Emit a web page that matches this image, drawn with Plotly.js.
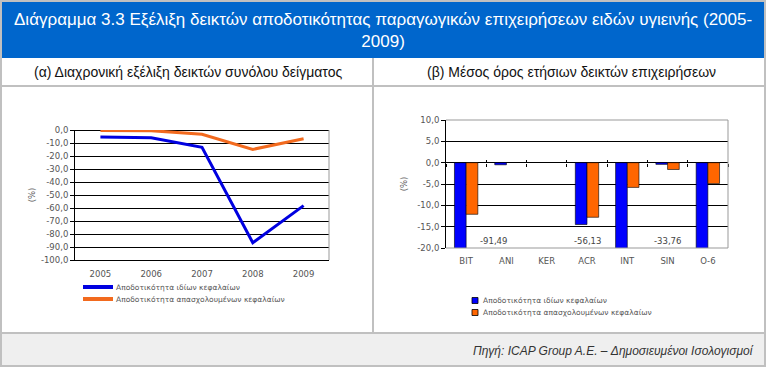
<!DOCTYPE html>
<html>
<head>
<meta charset="utf-8">
<script src="https://cdn.plot.ly/plotly-3.0.1.min.js"></script>
<style>
  html, body { margin: 0; padding: 0; background: #ffffff; }
  #chart { width: 766px; height: 368px; }
</style>
</head>
<body>
<div id="chart"></div>
<script>
// ---------------- DATA ----------------
const years = ['2005', '2006', '2007', '2008', '2009'];
const roeTotal = [-5.3, -5.9, -13.3, -86.7, -58.2];   // Αποδοτικότητα ιδίων κεφαλαίων
const roceTotal = [-0.3, -0.5, -3.3, -14.9, -6.7];    // Αποδοτικότητα απασχολουμένων κεφαλαίων

const companies = ['BIT', 'ANI', 'KER', 'ACR', 'INT', 'SIN', 'O-6'];
const roeAvg = [-91.49, -0.5, null, -14.5, -56.13, -0.4, -33.76];
const roceAvg = [-12.1, null, null, -12.8, -5.8, -1.6, -4.9];

const seriesNames = ['Αποδοτικότητα ιδίων κεφαλαίων', 'Αποδοτικότητα απασχολουμένων κεφαλαίων'];
const leftTickVals = [0, -10, -20, -30, -40, -50, -60, -70, -80, -90, -100];
const rightTickVals = [10, 5, 0, -5, -10, -15, -20];

const titleText = 'Διάγραμμα 3.3 Εξέλιξη δεικτών αποδοτικότητας παραγωγικών επιχειρήσεων ειδών υγιεινής (2005-<br>2009)';
const subTitleA = '(α) Διαχρονική εξέλιξη δεικτών συνόλου δείγματος';
const subTitleB = '(β) Μέσος όρος ετήσιων δεικτών επιχειρήσεων';
const sourceText = 'Πηγή: ICAP Group A.E. – Δημοσιευμένοι Ισολογισμοί';

// ---------------- STYLE / LAYOUT ----------------
const W = 766, H = 368;
const px = x => x / W;
const py = y => 1 - y / H;
const fmt = (v, d) => v.toFixed(d).replace('.', ',');

const BLUE_LINE = '#0000E0', ORANGE_LINE = '#F26A1E';
const BLUE_BAR = '#0000FF', ORANGE_BAR = '#FF6600';
const GRAY = '#C0C0C0';
const TICKFONT = { family: 'DejaVu Sans', size: 8.5, color: '#555555' };

// plot boxes (pixels)
const L = { x0: 75, x1: 329, y0: 130, y1: 260 };
const R = { x0: 446, x1: 728, y0: 120, y1: 248 };
const rMin = -20, rMax = 10;
const zeroY = R.y0 + (rMax - 0) / (rMax - rMin) * (R.y1 - R.y0);

const traces = [
  { type: 'scatter', mode: 'lines', x: years, y: roeTotal, name: seriesNames[0],
    line: { color: BLUE_LINE, width: 3 }, xaxis: 'x', yaxis: 'y', showlegend: false },
  { type: 'scatter', mode: 'lines', x: years, y: roceTotal, name: seriesNames[1],
    line: { color: ORANGE_LINE, width: 3 }, xaxis: 'x', yaxis: 'y', showlegend: false },
  { type: 'bar', x: companies, y: roeAvg, name: seriesNames[0],
    marker: { color: BLUE_BAR, line: { color: '#000000', width: 0.6 } }, xaxis: 'x2', yaxis: 'y2', showlegend: false },
  { type: 'bar', x: companies, y: roceAvg, name: seriesNames[1],
    marker: { color: ORANGE_BAR, line: { color: '#000000', width: 0.6 } }, xaxis: 'x2', yaxis: 'y2', showlegend: false },
  // helpers for the category tick marks crossing the zero line
  { type: 'scatter', x: [], y: [], xaxis: 'x3', yaxis: 'y2', showlegend: false, hoverinfo: 'skip' },
  { type: 'scatter', x: [], y: [], xaxis: 'x4', yaxis: 'y2', showlegend: false, hoverinfo: 'skip' }
];

const boundaryTicks = [];
for (let i = 0; i <= companies.length; i++) boundaryTicks.push(i - 0.5);

const shapes = [
  // outer frame
  { type: 'rect', xref: 'paper', yref: 'paper', x0: px(1), x1: px(765), y0: py(1), y1: py(366),
    line: { color: GRAY, width: 2 }, fillcolor: 'rgba(0,0,0,0)', layer: 'below' },
  // title band
  { type: 'rect', xref: 'paper', yref: 'paper', x0: px(2), x1: px(764), y0: py(2), y1: py(58),
    line: { width: 0 }, fillcolor: '#0066CC', layer: 'below' },
  // footer band
  { type: 'rect', xref: 'paper', yref: 'paper', x0: px(2), x1: px(764), y0: py(333), y1: py(365),
    line: { width: 0 }, fillcolor: '#EFEFEF', layer: 'below' },
  // separators
  { type: 'line', xref: 'paper', yref: 'paper', x0: px(1), x1: px(765), y0: py(86), y1: py(86),
    line: { color: GRAY, width: 2 }, layer: 'below' },
  { type: 'line', xref: 'paper', yref: 'paper', x0: px(1), x1: px(765), y0: py(333), y1: py(333),
    line: { color: GRAY, width: 2 }, layer: 'below' },
  { type: 'line', xref: 'paper', yref: 'paper', x0: px(373), x1: px(373), y0: py(58), y1: py(333),
    line: { color: GRAY, width: 2 }, layer: 'below' },
  // left plot: right border
  { type: 'line', xref: 'paper', yref: 'paper', x0: px(L.x1), x1: px(L.x1), y0: py(L.y0), y1: py(L.y1),
    line: { color: '#999999', width: 1 }, layer: 'above' },
  // right plot: top / right / bottom border
  { type: 'line', xref: 'paper', yref: 'paper', x0: px(R.x0), x1: px(R.x1), y0: py(R.y0), y1: py(R.y0),
    line: { color: '#999999', width: 1 }, layer: 'above' },
  { type: 'line', xref: 'paper', yref: 'paper', x0: px(R.x1), x1: px(R.x1), y0: py(R.y0), y1: py(R.y1),
    line: { color: '#999999', width: 1 }, layer: 'above' },
  { type: 'line', xref: 'paper', yref: 'paper', x0: px(R.x0), x1: px(R.x1), y0: py(R.y1), y1: py(R.y1),
    line: { color: '#999999', width: 1 }, layer: 'above' }
];

const annotations = [
  { xref: 'paper', yref: 'paper', x: px(383), y: py(31), text: titleText, showarrow: false,
    xanchor: 'center', yanchor: 'middle', align: 'center',
    font: { family: 'Liberation Sans', size: 17, color: '#FFFFFF' } },
  { xref: 'paper', yref: 'paper', x: px(188), y: py(72), text: subTitleA, showarrow: false,
    xanchor: 'center', yanchor: 'middle', font: { family: 'Liberation Sans', size: 14, color: '#111111' } },
  { xref: 'paper', yref: 'paper', x: px(571), y: py(72), text: subTitleB, showarrow: false,
    xanchor: 'center', yanchor: 'middle', font: { family: 'Liberation Sans', size: 14, color: '#111111' } },
  { xref: 'paper', yref: 'paper', x: px(756), y: py(351), text: '<i>' + sourceText + '</i>', showarrow: false,
    xanchor: 'right', yanchor: 'middle', font: { family: 'Liberation Sans', size: 12, color: '#333333' } }
];

// labels for bars that run off the scale
const offscaleLabelPos = { 'BIT': { x: 'ANI', xshift: -13 }, 'INT': { x: 'ACR', xshift: 0 }, 'O-6': { x: 'SIN', xshift: 0 } };
companies.forEach((c, i) => {
  const v = roeAvg[i];
  if (v !== null && v < rMin && offscaleLabelPos[c]) {
    annotations.push({ xref: 'x2', yref: 'y2', x: offscaleLabelPos[c].x, xshift: offscaleLabelPos[c].xshift,
      y: -18.4, text: fmt(v, 2), showarrow: false, xanchor: 'center', yanchor: 'middle',
      font: { family: 'DejaVu Sans', size: 8.5, color: '#444444' } });
  }
});

// manual legends
const legColorsL = [BLUE_LINE, ORANGE_LINE];
const legColorsR = [BLUE_BAR, ORANGE_BAR];
seriesNames.forEach((name, i) => {
  const yl = 287 + i * 12;
  shapes.push({ type: 'line', xref: 'paper', yref: 'paper', x0: px(83), x1: px(113), y0: py(yl), y1: py(yl),
    line: { color: legColorsL[i], width: 4 } });
  annotations.push({ xref: 'paper', yref: 'paper', x: px(114), y: py(yl), text: name, showarrow: false,
    xanchor: 'left', yanchor: 'middle', font: { family: 'DejaVu Sans', size: 7.5, color: '#555555' } });
  const yr = 300.5 + i * 12;
  shapes.push({ type: 'rect', xref: 'paper', yref: 'paper', x0: px(472), x1: px(478), y0: py(yr - 3), y1: py(yr + 3),
    line: { color: '#000000', width: 0.8 }, fillcolor: legColorsR[i] });
  annotations.push({ xref: 'paper', yref: 'paper', x: px(481), y: py(yr), text: name, showarrow: false,
    xanchor: 'left', yanchor: 'middle', font: { family: 'DejaVu Sans', size: 7.5, color: '#555555' } });
});

const layout = {
  width: W, height: H,
  margin: { l: 0, r: 0, t: 0, b: 0, pad: 0 },
  paper_bgcolor: '#FFFFFF', plot_bgcolor: 'rgba(0,0,0,0)',
  separators: ',.',
  showlegend: false,
  bargap: 0.42, bargroupgap: 0, barmode: 'group',
  xaxis: {
    domain: [px(L.x0), px(L.x1)], anchor: 'y', type: 'category', range: [-0.5, years.length - 0.5],
    showgrid: false, zeroline: false, showline: true, linecolor: '#000000', linewidth: 1,
    ticks: '', tickfont: TICKFONT, ticklabelstandoff: 6, fixedrange: true
  },
  yaxis: {
    domain: [py(L.y1), py(L.y0)], anchor: 'x', range: [-100, 0],
    tickvals: leftTickVals, ticktext: leftTickVals.map(v => fmt(v, 1)),
    showgrid: true, gridcolor: '#000000', gridwidth: 1,
    zeroline: true, zerolinecolor: '#000000', zerolinewidth: 1,
    showline: true, linecolor: '#000000', linewidth: 1,
    ticks: 'outside', ticklen: 4, tickcolor: '#000000', tickfont: TICKFONT,
    title: { text: '(%)', font: { family: 'DejaVu Sans', size: 8.5, color: '#555555' }, standoff: 3 },
    fixedrange: true
  },
  xaxis2: {
    domain: [px(R.x0), px(R.x1)], anchor: 'y2', type: 'category', range: [-0.5, companies.length - 0.5],
    showgrid: false, zeroline: false, showline: false,
    ticks: '', tickfont: TICKFONT, ticklabelstandoff: 6, fixedrange: true
  },
  yaxis2: {
    domain: [py(R.y1), py(R.y0)], anchor: 'x2', range: [rMin, rMax],
    tickvals: rightTickVals, ticktext: rightTickVals.map(v => fmt(v, 1)),
    showgrid: true, gridcolor: '#000000', gridwidth: 1,
    zeroline: true, zerolinecolor: '#000000', zerolinewidth: 1,
    showline: true, linecolor: '#000000', linewidth: 1,
    ticks: 'outside', ticklen: 4, tickcolor: '#000000', tickfont: TICKFONT,
    title: { text: '(%)', font: { family: 'DejaVu Sans', size: 8.5, color: '#555555' }, standoff: 8 },
    fixedrange: true
  },
  xaxis3: {
    overlaying: 'x2', anchor: 'free', position: py(zeroY), side: 'bottom',
    range: [-0.5, companies.length - 0.5], tickvals: boundaryTicks, showticklabels: false,
    ticks: 'outside', ticklen: 3, tickcolor: '#000000', tickwidth: 1,
    showgrid: false, zeroline: false, showline: false, fixedrange: true
  },
  xaxis4: {
    overlaying: 'x2', anchor: 'free', position: py(zeroY), side: 'bottom',
    range: [-0.5, companies.length - 0.5], tickvals: boundaryTicks, showticklabels: false,
    ticks: 'inside', ticklen: 3, tickcolor: '#000000', tickwidth: 1,
    showgrid: false, zeroline: false, showline: false, fixedrange: true
  },
  shapes: shapes,
  annotations: annotations
};

Plotly.newPlot('chart', traces, layout, { staticPlot: true, displayModeBar: false });
</script>
</body>
</html>
